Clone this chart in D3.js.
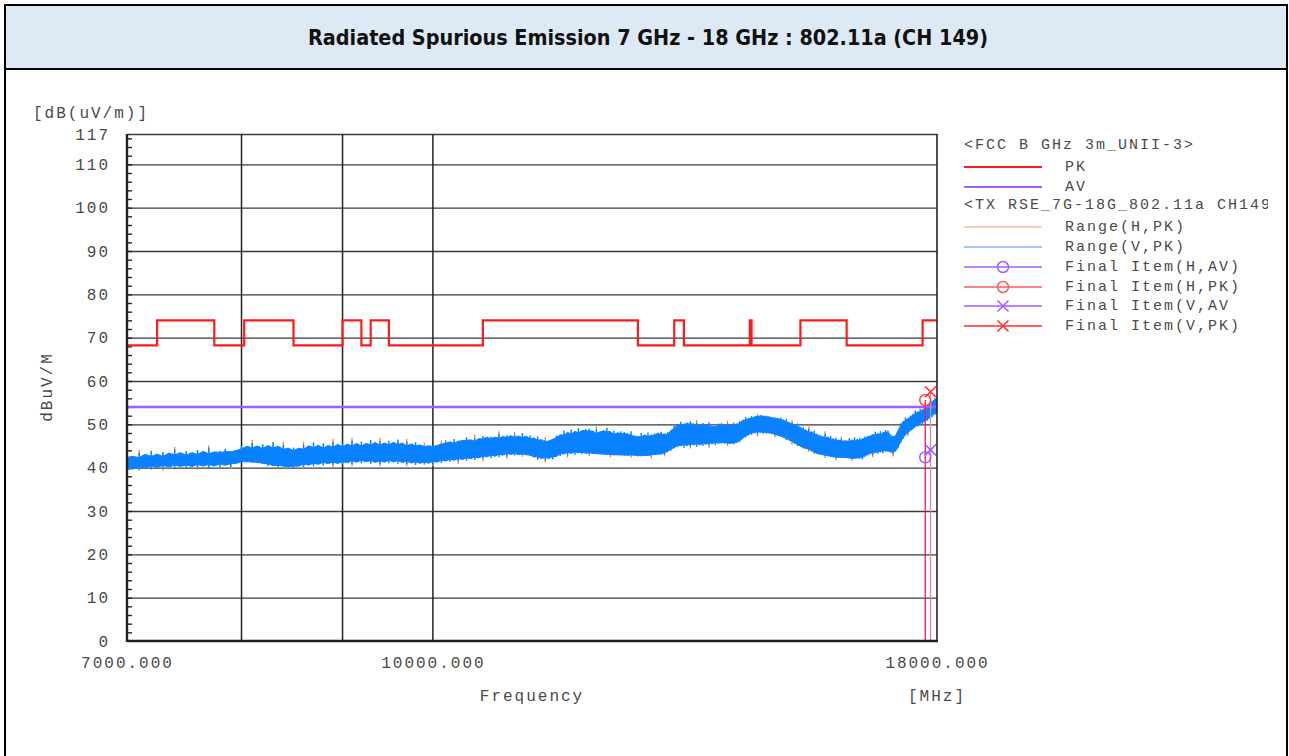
<!DOCTYPE html>
<html>
<head>
<meta charset="utf-8">
<script src="https://cdn.jsdelivr.net/npm/d3@7"></script>
<style>
  body { margin: 0; background: #fff; }
  svg { display: block; }
  .mono { font-family: "Liberation Mono", "DejaVu Sans Mono", monospace; fill: #4a4a4a; }
</style>
</head>
<body>
<svg id="chart" width="1289" height="756"></svg>
<script>
// ---- data ----
var titleText = "Radiated Spurious Emission 7 GHz - 18 GHz : 802.11a (CH 149)";
var yTickLabels = [0, 10, 20, 30, 40, 50, 60, 70, 80, 90, 100, 110, 117];
var xTickLabels = [7000, 10000, 18000];
var xGridMHz = [8000, 9000, 10000];

// FCC limit: PK 74 dB inside restricted bands, 68.2 elsewhere; AV 54
var pkHigh = 74, pkLow = 68.2, avLimit = 54;
var restrictedStart = [7250, 8025, 9000, 9300, 10600, 13250, 14470, 15350, 17700];
var restrictedEnd   = [7750, 8500, 9200, 9500, 12700, 13400, 14500, 16200, 21400];

// sweep grid of the traces (MHz)
var sweepStart = 7000, blueStep = 50, orangeStep = 100;

// Range(V,PK) trace envelope, dB(uV/m), one pair per 50 MHz
var vHi = [
  42.8, 41.6, 43.4, 42.0, 43.9, 41.9, 43.6, 42.3, 44.2, 42.4,
  43.8, 42.5, 44.1, 42.6, 44.6, 42.4, 43.9, 44.3, 42.8, 44.0,
  45.0, 44.1, 45.7, 43.9, 45.4, 44.0, 45.9, 43.8, 45.2, 43.7,
  44.6, 43.5, 45.3, 44.0, 45.8, 44.1, 45.6, 43.9, 45.9, 44.4,
  45.8, 44.3, 46.2, 44.6, 46.0, 44.4, 46.4, 44.9, 46.1, 44.7,
  46.2, 44.9, 46.5, 44.6, 46.0, 44.5, 45.9, 44.8, 45.0, 44.9,
  45.2, 44.6, 45.5, 46.3, 45.0, 46.6, 45.3, 46.4, 47.0, 45.5,
  46.8, 46.0, 47.3, 46.6, 47.2, 46.2, 47.8, 46.3, 47.5, 47.0,
  47.6, 46.3, 48.0, 46.5, 47.4, 46.0, 47.2, 45.8, 46.4, 45.6,
  46.6, 47.4, 46.8, 48.6, 47.1, 48.8, 47.3, 49.1, 47.7, 48.9,
  49.0, 47.5, 48.8, 47.3, 48.7, 49.2, 47.2, 48.6, 47.1, 48.4,
  48.2, 46.8, 48.4, 47.0, 46.5, 48.0, 46.7, 48.1, 46.6, 47.9,
  47.8, 48.3, 46.8, 48.2, 47.9, 49.8, 49.4, 50.6, 49.2, 50.4,
  50.7, 49.2, 50.4, 49.0, 50.3, 49.1, 50.5, 49.3, 48.8, 50.2,
  50.3, 48.9, 50.2, 49.2, 50.4, 49.1, 50.8, 50.5, 51.7, 50.6,
  51.9, 51.5, 51.8, 52.2, 51.6, 52.0, 51.5, 51.7, 51.1, 51.4,
  51.6, 50.2, 51.3, 49.8, 50.4, 49.2, 50.2, 48.7, 49.3, 47.9,
  48.9, 47.5, 48.5, 47.1, 47.6, 46.4, 47.8, 46.2, 47.3, 45.9,
  46.9, 45.6, 46.6, 46.2, 45.6, 46.8, 45.5, 47.0, 45.7, 46.9,
  45.9, 47.2, 46.9, 47.4, 47.2, 48.3, 47.0, 48.4, 47.2, 48.7,
  48.6, 47.3, 46.6, 47.3, 48.2, 50.2, 50.2, 51.6, 50.6, 52.0,
  51.8, 53.2, 52.0, 53.6, 52.6, 54.1, 53.8, 55.0, 54.8, 56.0,
  56.2
];
var vLo = [
  39.2, 40.5, 39.4, 40.7, 39.6, 40.9, 39.8, 40.8, 39.9, 41.1,
  39.8, 41.0, 40.0, 41.2, 39.9, 41.1, 40.1, 41.3, 40.2, 41.2,
  41.6, 41.2, 41.5, 41.0, 41.4, 40.4, 40.9, 40.1, 40.7, 40.2,
  39.8, 41.1, 40.1, 41.3, 40.3, 41.5, 40.5, 41.7, 40.6, 41.6,
  40.7, 41.9, 40.8, 42.0, 41.0, 42.1, 40.9, 41.9, 40.8, 42.0,
  41.0, 42.1, 40.9, 41.9, 40.8, 41.8, 40.6, 41.7, 40.7, 41.6,
  40.8, 41.9, 41.1, 42.2, 41.3, 42.4, 41.4, 42.6, 41.6, 42.7,
  41.8, 42.9, 42.0, 43.2, 42.2, 43.3, 42.4, 43.6, 42.6, 43.7,
  42.8, 43.3, 43.0, 43.2, 42.7, 42.9, 41.8, 42.8, 41.7, 42.7,
  41.9, 43.1, 42.7, 43.9, 42.8, 44.0, 43.0, 44.2, 43.1, 43.6,
  43.2, 43.5, 43.1, 43.3, 43.0, 43.2, 42.9, 43.1, 42.8, 43.2,
  42.7, 43.0, 42.8, 43.1, 42.6, 42.9, 42.7, 43.0, 42.6, 43.5,
  42.9, 43.3, 43.1, 44.1, 43.9, 45.1, 44.7, 45.8, 44.6, 45.7,
  44.9, 46.0, 44.8, 45.9, 45.0, 46.1, 45.1, 46.2, 45.2, 46.1,
  45.6, 45.9, 45.5, 45.8, 45.4, 46.0, 45.9, 47.1, 47.0, 48.1,
  47.6, 48.7, 47.7, 48.8, 47.8, 48.3, 47.9, 48.1, 47.5, 47.7,
  47.1, 47.3, 46.4, 46.8, 45.8, 45.9, 45.0, 45.3, 44.4, 44.6,
  44.1, 44.3, 43.2, 43.5, 43.0, 43.2, 42.7, 42.9, 42.5, 42.7,
  42.2, 42.6, 42.3, 42.5, 42.2, 42.4, 42.0, 42.3, 42.1, 42.5,
  41.9, 43.1, 42.8, 43.8, 42.9, 44.1, 43.2, 44.3, 43.3, 44.5,
  43.6, 44.0, 43.1, 43.9, 44.4, 46.3, 46.6, 48.1, 47.8, 48.9,
  48.8, 49.9, 49.5, 50.6, 50.1, 51.2, 50.8, 51.9, 51.7, 52.8,
  52.5
];

// Range(H,PK) trace envelope, one pair per 100 MHz (mostly hidden behind V)
var hHi = [
  42.0, 44.1, 43.0, 43.2, 44.8, 43.0, 43.5, 45.2, 43.1, 43.6,
  44.3, 46.4, 44.9, 45.2, 45.9, 44.1, 46.0, 45.0, 44.9, 46.6,
  45.1, 46.9, 45.2, 45.8, 46.9, 45.5, 45.8, 46.7, 45.2, 45.8,
  44.6, 46.3, 44.5, 46.1, 46.4, 47.6, 46.7, 46.6, 48.4, 46.9,
  48.3, 47.3, 46.9, 46.5, 47.1, 45.9, 47.5, 46.4, 48.2, 47.0,
  48.3, 49.5, 48.0, 46.6, 47.9, 47.5, 47.8, 47.2, 46.1, 47.3,
  47.1, 47.6, 47.3, 48.8, 50.0, 50.1, 51.0, 49.6, 49.8, 49.5,
  49.7, 50.9, 49.8, 50.2, 51.1, 51.3, 52.4, 51.0, 50.9, 51.7,
  51.0, 50.7, 51.0, 49.6, 48.7, 49.5, 47.9, 47.1, 48.4, 46.7,
  46.3, 47.2, 45.1, 46.1, 45.2, 46.6, 46.3, 46.7, 47.6, 46.7,
  48.0, 47.3, 47.6, 49.6, 51.2, 51.2, 52.6, 52.0, 53.2, 55.3,
  55.7
];
var hLo = [
  38.5, 39.9, 40.1, 39.3, 40.4, 40.3, 39.5, 40.4, 40.6, 39.7,
  42.0, 41.9, 41.0, 40.4, 41.2, 40.3, 39.6, 40.8, 41.0, 40.1,
  41.2, 40.3, 41.5, 41.4, 40.3, 41.5, 41.4, 40.3, 41.1, 41.2,
  40.3, 41.6, 41.8, 40.9, 42.1, 42.3, 41.5, 42.7, 42.9, 42.1,
  43.3, 42.5, 43.2, 42.3, 41.2, 42.4, 43.2, 42.3, 43.5, 43.6,
  42.7, 43.6, 43.5, 42.4, 43.3, 43.2, 42.3, 43.1, 43.2, 42.1,
  43.4, 42.6, 44.4, 45.2, 45.1, 44.4, 45.3, 45.5, 44.6, 45.7,
  46.1, 45.0, 45.9, 46.4, 47.5, 48.1, 47.2, 48.3, 48.4, 47.0,
  47.6, 46.9, 45.3, 45.5, 44.9, 43.6, 43.7, 43.5, 42.2, 43.0,
  41.7, 42.8, 42.7, 41.5, 42.6, 42.4, 43.3, 42.4, 43.7, 43.8,
  44.1, 42.6, 44.9, 47.1, 47.3, 49.3, 50.0, 50.6, 51.3, 52.2,
  52.9
];

// Final items
var finalHFreq = 17755, finalVFreq = 17865;
var finalHAV = 42.4, finalHPK = 55.6, finalVAV = 44.1, finalVPK = 57.5;

var legendItems = [
  { label: "<FCC B GHz 3m_UNII-3>", head: true },
  { label: "PK", color: "#ff1a1a", width: 2.2 },
  { label: "AV", color: "#a35cff", width: 2.2 },
  { label: "<TX RSE_7G-18G_802.11a CH149>", head: true },
  { label: "Range(H,PK)", color: "#ff9a5c", width: 1.2 },
  { label: "Range(V,PK)", color: "#3d95f5", width: 1.2 },
  { label: "Final Item(H,AV)", color: "#a35cff", width: 1.6, mark: "o" },
  { label: "Final Item(H,PK)", color: "#ff5a5a", width: 1.6, mark: "o" },
  { label: "Final Item(V,AV", color: "#a35cff", width: 1.6, mark: "x" },
  { label: "Final Item(V,PK)", color: "#ff2a2a", width: 1.6, mark: "x" }
];
var legendRowY = [145, 167, 187, 205, 227, 247, 267, 287, 306, 326];

// ---- drawing ----
var svg = d3.select("#chart");
var plotL = 127, plotR = 937, plotT = 134, plotB = 641;

var x = d3.scaleLog().domain([7000, 18000]).range([plotL, plotR]);
var y = d3.scaleLinear().domain([0, 117]).range([plotB, plotT]);

// header band and frame
svg.append("rect").attr("x", 5).attr("y", 5).attr("width", 1282).attr("height", 64)
  .attr("fill", "#dee9f6").attr("stroke", "#000").attr("stroke-width", 2);
svg.append("line").attr("x1", 5).attr("x2", 5).attr("y1", 69).attr("y2", 756)
  .attr("stroke", "#000").attr("stroke-width", 2);
svg.append("line").attr("x1", 1287).attr("x2", 1287).attr("y1", 69).attr("y2", 756)
  .attr("stroke", "#000").attr("stroke-width", 2);
svg.append("text")
  .attr("x", 648).attr("y", 38)
  .attr("text-anchor", "middle").attr("dominant-baseline", "central")
  .attr("textLength", 680).attr("lengthAdjust", "spacingAndGlyphs")
  .style("font-family", "'Liberation Sans Narrow','DejaVu Sans Condensed','Liberation Sans',sans-serif")
  .style("font-weight", "bold").style("font-size", "21px").style("fill", "#111")
  .text(titleText);

svg.append("clipPath").attr("id", "plotClip").append("rect")
  .attr("x", plotL).attr("y", plotT).attr("width", plotR - plotL).attr("height", plotB - plotT);

// horizontal grid
svg.append("g")
  .attr("transform", "translate(" + plotL + ",0)")
  .call(d3.axisLeft(y).tickValues([10, 20, 30, 40, 50, 60, 70, 80, 90, 100, 110, 117])
    .tickSize(-(plotR - plotL)).tickFormat(""))
  .call(function (g) {
    g.select(".domain").remove();
    g.selectAll(".tick line").attr("stroke", "#3a3a3a").attr("stroke-width", 1.3);
  });

// vertical grid
svg.append("g").selectAll("line")
  .data(xGridMHz).enter().append("line")
  .attr("x1", function (d) { return x(d); }).attr("x2", function (d) { return x(d); })
  .attr("y1", plotT).attr("y2", plotB)
  .attr("stroke", "#222").attr("stroke-width", 1.5);

// minor ticks inside left spine
svg.append("g")
  .attr("transform", "translate(" + plotL + ",0)")
  .call(d3.axisRight(y).tickValues(d3.range(2, 117, 2)).tickSize(5).tickFormat(""))
  .call(function (g) {
    g.select(".domain").remove();
    g.selectAll(".tick line").attr("stroke", "#222").attr("stroke-width", 1.4);
  });

// traces: a solid body (local mean of neighbouring samples) plus one hair per sample
function envelope(lo, hi, step) {
  return lo.map(function (v, i) {
    var a = Math.max(0, i - 1), b = Math.min(lo.length - 1, i + 1);
    return {
      f: sweepStart + i * step, lo: v, hi: hi[i],
      coreLo: (lo[a] + v + lo[b]) / 3, coreHi: (hi[a] + hi[i] + hi[b]) / 3
    };
  });
}
var core = d3.area()
  .x(function (d) { return x(d.f); })
  .y0(function (d) { return y(d.coreLo); })
  .y1(function (d) { return y(d.coreHi); });

function drawTrace(g, rows, color, hairW, withCore) {
  if (withCore) {
    g.append("path").datum(rows).attr("d", core)
      .attr("fill", color).attr("stroke", color).attr("stroke-width", 1);
  }
  g.append("g").selectAll("line").data(rows).enter().append("line")
    .attr("x1", function (d) { return x(d.f); }).attr("x2", function (d) { return x(d.f); })
    .attr("y1", function (d) { return y(d.lo); }).attr("y2", function (d) { return y(d.hi); })
    .attr("stroke", color).attr("stroke-width", hairW);
}

var traces = svg.append("g").attr("clip-path", "url(#plotClip)");
drawTrace(traces, envelope(hLo, hHi, orangeStep), "#ff7f2e", 1.3, false);
drawTrace(traces, envelope(vLo, vHi, blueStep), "#0a82ff", 1.5, true);

// AV limit
traces.append("line")
  .attr("x1", plotL).attr("x2", plotR).attr("y1", y(avLimit)).attr("y2", y(avLimit))
  .attr("stroke", "#a35cff").attr("stroke-width", 2.5);

// PK limit steps
var pkPts = [[7000, pkLow]];
restrictedStart.forEach(function (s, i) {
  var e = Math.min(restrictedEnd[i], 18000);
  pkPts.push([s, pkLow], [s, pkHigh], [e, pkHigh]);
  if (restrictedEnd[i] < 18000) pkPts.push([e, pkLow]);
});
traces.append("path")
  .attr("d", d3.line().x(function (d) { return x(d[0]); }).y(function (d) { return y(d[1]); })(pkPts))
  .attr("fill", "none").attr("stroke", "#ff1a1a").attr("stroke-width", 2.2);

// final items
traces.append("line")
  .attr("x1", x(finalHFreq)).attr("x2", x(finalHFreq)).attr("y1", y(finalHPK)).attr("y2", plotB)
  .attr("stroke", "#e8204f").attr("stroke-width", 1.3);
traces.append("line")
  .attr("x1", x(finalVFreq)).attr("x2", x(finalVFreq)).attr("y1", y(finalVPK)).attr("y2", plotB)
  .attr("stroke", "#f27fa0").attr("stroke-width", 1.3);

function drawMark(g, type, cx, cy, color) {
  if (type === "o") {
    g.append("circle").attr("cx", cx).attr("cy", cy).attr("r", 5.5)
      .attr("fill", "none").attr("stroke", color).attr("stroke-width", 1.5);
  } else {
    g.append("path")
      .attr("d", "M" + (cx - 5.5) + "," + (cy - 5.5) + "L" + (cx + 5.5) + "," + (cy + 5.5) +
                 "M" + (cx - 5.5) + "," + (cy + 5.5) + "L" + (cx + 5.5) + "," + (cy - 5.5))
      .attr("stroke", color).attr("stroke-width", 1.5);
  }
}
var marks = svg.append("g");
drawMark(marks, "o", x(finalHFreq), y(finalHAV), "#a35cff");
drawMark(marks, "o", x(finalHFreq), y(finalHPK), "#ff4040");
drawMark(marks, "x", x(finalVFreq), y(finalVAV), "#a35cff");
drawMark(marks, "x", x(finalVFreq), y(finalVPK), "#ff2a2a");

// frame: right border, left spine, bottom axis
svg.append("line").attr("x1", plotR).attr("x2", plotR).attr("y1", plotT).attr("y2", plotB)
  .attr("stroke", "#222").attr("stroke-width", 1.6);
svg.append("line").attr("x1", plotL).attr("x2", plotL).attr("y1", plotT).attr("y2", plotB + 1)
  .attr("stroke", "#222").attr("stroke-width", 2.4);
svg.append("line").attr("x1", plotL).attr("x2", plotR + 1).attr("y1", plotB).attr("y2", plotB)
  .attr("stroke", "#222").attr("stroke-width", 2.4);

// y labels
svg.append("g")
  .attr("transform", "translate(" + plotL + ",0)")
  .call(d3.axisLeft(y).tickValues(yTickLabels).tickSize(0).tickPadding(17))
  .call(function (g) {
    g.select(".domain").remove();
    g.selectAll("text").attr("class", "mono").attr("fill", null)
      .style("font-size", "16px").style("letter-spacing", "2px");
  });

// x labels
svg.append("g")
  .attr("transform", "translate(0," + plotB + ")")
  .call(d3.axisBottom(x).tickValues(xTickLabels).tickSize(0).tickPadding(16)
    .tickFormat(function (d) { return d3.format(".3f")(d); }))
  .call(function (g) {
    g.select(".domain").remove();
    g.selectAll("text").attr("class", "mono").attr("fill", null)
      .style("font-size", "16px").style("letter-spacing", "2px");
  });

function monoText(tx, ty, str, anchor, size) {
  return svg.append("text").attr("class", "mono")
    .attr("x", tx).attr("y", ty)
    .attr("text-anchor", anchor).attr("dominant-baseline", "central")
    .style("font-size", size + "px").style("letter-spacing", "2px")
    .text(str);
}
monoText(33, 114, "[dB(uV/m)]", "start", 16);
monoText(532, 697, "Frequency", "middle", 16);
monoText(937, 697, "[MHz]", "middle", 16);
monoText(0, 0, "dBuV/M", "middle", 16).attr("transform", "translate(48,387) rotate(-90)");

// legend
svg.append("clipPath").attr("id", "legClip").append("rect")
  .attr("x", 940).attr("y", 120).attr("width", 328).attr("height", 230);
var leg = svg.append("g").attr("clip-path", "url(#legClip)");
legendItems.forEach(function (it, i) {
  var ly = legendRowY[i];
  if (it.head) {
    leg.append("text").attr("class", "mono")
      .attr("x", 964).attr("y", ly).attr("dominant-baseline", "central")
      .style("font-size", "15px").style("letter-spacing", "2px").text(it.label);
    return;
  }
  leg.append("line").attr("x1", 964).attr("x2", 1042).attr("y1", ly).attr("y2", ly)
    .attr("stroke", it.color).attr("stroke-width", it.width);
  if (it.mark) drawMark(leg, it.mark, 1003, ly, it.color);
  leg.append("text").attr("class", "mono")
    .attr("x", 1065).attr("y", ly).attr("dominant-baseline", "central")
    .style("font-size", "15px").style("letter-spacing", "2px").text(it.label);
});
</script>
</body>
</html>
